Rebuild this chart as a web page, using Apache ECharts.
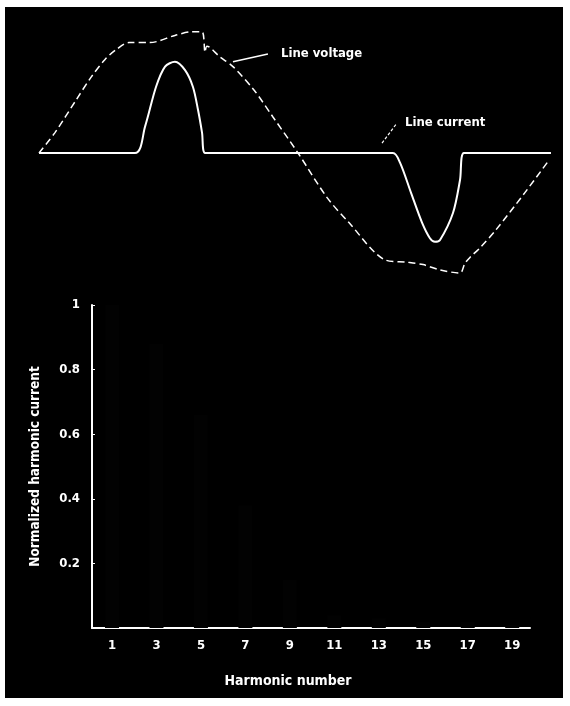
<!DOCTYPE html>
<html>
<head>
<meta charset="utf-8">
<script src="https://cdn.jsdelivr.net/npm/echarts@6/dist/echarts.min.js"></script>
<style>
html,body{margin:0;padding:0;background:#fff;width:570px;height:706px;overflow:hidden;}
#panel{position:absolute;left:5px;top:7px;width:558px;height:691px;background:#000;}
#chart{position:absolute;left:0;top:0;width:570px;height:706px;}
</style>
</head>
<body>
<div id="panel"></div>
<div id="chart"></div>
<script>
// ---- Waveform data (phase angle in degrees, amplitude in per-unit) ----
var voltageAngle = [0, 11.1, 25.7, 36.1, 45.9, 53.5, 62.5, 77.1, 94.5, 106.3, 113.3, 115.4, 116.7, 125.8, 134.8, 149.4, 162.6, 180, 200.1, 215.4, 240.4, 255.7, 266.9, 278.7, 292.6, 296, 299.5, 306.5, 317.6, 337.7, 354.4];
var voltageValue = [0, 0.17, 0.44, 0.63, 0.78, 0.86, 0.92, 0.92, 0.98, 1.01, 1.01, 0.84, 0.89, 0.80, 0.72, 0.525, 0.30, 0, -0.37, -0.58, -0.89, -0.91, -0.93, -0.975, -1.0, -0.92, -0.87, -0.79, -0.64, -0.33, -0.06];
var currentAngle = [0, 66.7, 73.7, 81.3, 87.6, 94.5, 101.5, 107, 110.5, 113.3, 115.4, 246, 250.9, 258.5, 266.2, 271.7, 275.2, 278.7, 287.7, 292.6, 295.3, 355.8];
var currentValue = [0, 0, 0.22, 0.55, 0.72, 0.76, 0.69, 0.55, 0.36, 0.17, 0, 0, -0.08, -0.33, -0.58, -0.71, -0.74, -0.725, -0.5, -0.225, 0, 0];

// ---- Annotation leaders (data coords) ----
var voltageLeader = [[134.8, 0.76], [159.1, 0.825]];
var currentLeader = [[238.4, 0.083], [248.8, 0.25]];
var voltageLabel = 'Line voltage';
var currentLabel = 'Line current';

// ---- Harmonic spectrum ----
var harmonicNumbers = [1, 3, 5, 7, 9, 11, 13, 15, 17, 19];
var harmonicCurrent = [1.0, 0.88, 0.66, 0.38, 0.15, 0.04, 0.03, 0.02, 0.02, 0.01];
var xTickLabels = [1, 3, 5, 7, 9, 11, 13, 15, 17, 19];
var yTickValues = [0.2, 0.4, 0.6, 0.8, 1];
var xAxisTitle = 'Harmonic number';
var yAxisTitle = 'Normalized harmonic current';

function zip(a, b) { return a.map(function (v, i) { return [v, b[i]]; }); }

var FONT = '"DejaVu Sans Condensed", "Liberation Sans Narrow", sans-serif';

var chart = echarts.init(document.getElementById('chart'), null, {renderer: 'canvas'});
chart.setOption({
  backgroundColor: 'transparent',
  animation: false,
  grid: [
    {left: 39, right: 13, top: 21, height: 276},
    {left: 92, right: 40, top: 305, bottom: 78}
  ],
  xAxis: [
    {gridIndex: 0, type: 'value', min: 0, max: 360, show: false},
    {gridIndex: 1, type: 'value', min: 0.1, max: 19.8,
     axisLine: {show: true, lineStyle: {color: '#fff', width: 2}},
     axisTick: {show: false},
     splitLine: {show: false},
     axisLabel: {customValues: xTickLabels, color: '#fff', fontFamily: FONT, fontWeight: 'bold', fontSize: 13, margin: 11},
     name: xAxisTitle, nameLocation: 'middle', nameGap: 46,
     nameTextStyle: {color: '#fff', fontFamily: FONT, fontWeight: 'bold', fontSize: 14, padding: [0, 46, 0, 0]}
    }
  ],
  yAxis: [
    {gridIndex: 0, type: 'value', min: -1.2, max: 1.1, show: false},
    {gridIndex: 1, type: 'value', min: 0, max: 1,
     axisLine: {show: true, lineStyle: {color: '#fff', width: 2}},
     axisTick: {show: true, inside: true, length: 3, customValues: yTickValues, lineStyle: {color: '#fff'}},
     splitLine: {show: false},
     axisLabel: {customValues: yTickValues, color: '#fff', fontFamily: FONT, fontWeight: 'bold', fontSize: 13, margin: 12},
     name: yAxisTitle, nameLocation: 'middle', nameGap: 50, nameRotate: 90,
     nameTextStyle: {color: '#fff', fontFamily: FONT, fontWeight: 'bold', fontSize: 13.5}
    }
  ],
  series: [
    {
      type: 'line', xAxisIndex: 0, yAxisIndex: 0, symbol: 'none', smooth: 0.3,
      data: zip(voltageAngle, voltageValue),
      lineStyle: {color: '#fff', width: 1.5, type: [7, 4]},
      markLine: {
        silent: true, symbol: 'none',
        lineStyle: {color: '#fff', width: 1.5, type: 'solid'},
        label: {show: false},
        data: [[{coord: voltageLeader[0]}, {coord: voltageLeader[1]}]]
      },
      markPoint: {
        symbol: 'circle', symbolSize: 0,
        label: {show: true, position: 'right', distance: 13, color: '#fff', fontFamily: FONT, fontSize: 13, fontWeight: 'bold', formatter: voltageLabel},
        data: [{coord: voltageLeader[1]}]
      }
    },
    {
      type: 'line', xAxisIndex: 0, yAxisIndex: 0, symbol: 'none', smooth: 0.3,
      data: zip(currentAngle, currentValue),
      lineStyle: {color: '#fff', width: 2},
      markLine: {
        silent: true, symbol: 'none',
        lineStyle: {color: '#fff', width: 1.2, type: [3, 2]},
        label: {show: false},
        data: [[{coord: currentLeader[0]}, {coord: currentLeader[1]}]]
      },
      markPoint: {
        symbol: 'circle', symbolSize: 0,
        label: {show: true, position: 'right', distance: 8, color: '#fff', fontFamily: FONT, fontSize: 13, fontWeight: 'bold', formatter: currentLabel},
        data: [{coord: currentLeader[1]}]
      }
    },
    {
      type: 'bar', xAxisIndex: 1, yAxisIndex: 1, barWidth: 14,
      data: zip(harmonicNumbers, harmonicCurrent),
      itemStyle: {color: '#020202'}
    }
  ]
});
</script>
</body>
</html>
